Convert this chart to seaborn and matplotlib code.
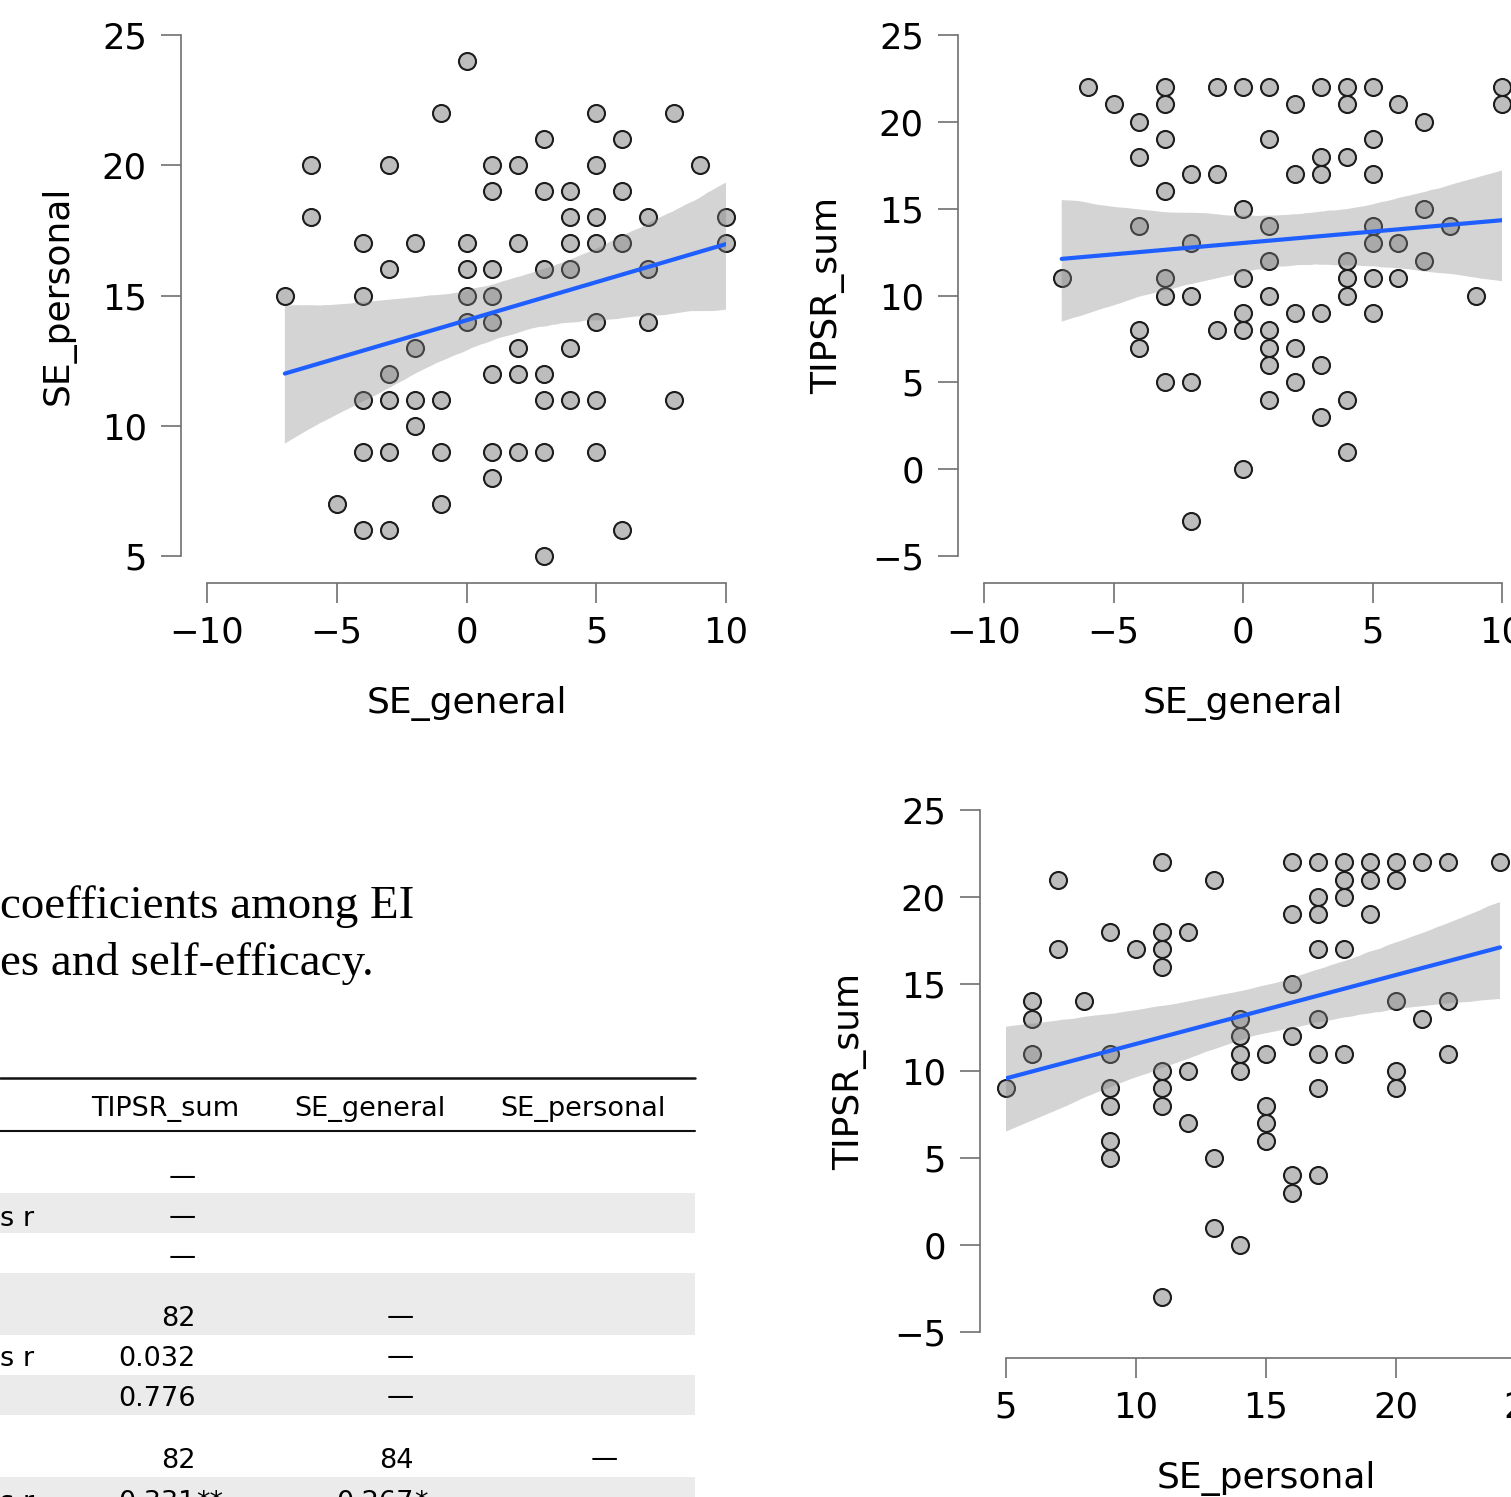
import numpy as np
import pandas as pd
import matplotlib
matplotlib.use("Agg")
import matplotlib.pyplot as plt
import seaborn as sns
from matplotlib.patches import Rectangle
from matplotlib.lines import Line2D

# ---------------- data ----------------
# Panel 1: SE_general (x) vs SE_personal (y)
p1_se_general = [0,
                 -1, 5, 8,
                 3, 6,
                 -6, -3, 1, 2, 5, 9,
                 1, 3, 4, 6,
                 -6, 4, 5, 7, 10,
                 -4, -2, 0, 2, 4, 5, 6, 10,
                 -3, 0, 1, 3, 4, 7,
                 -7, -4, 0, 1,
                 0, 1, 5, 7,
                 -2, 2, 4,
                 -3, 1, 2, 3,
                 -4, -3, -2, -1, 3, 4, 5, 8,
                 -2,
                 -4, -3, -1, 1, 2, 3, 5,
                 1,
                 -5, -1,
                 -4, -3, 6,
                 3]
p1_se_personal = [24,
                  22, 22, 22,
                  21, 21,
                  20, 20, 20, 20, 20, 20,
                  19, 19, 19, 19,
                  18, 18, 18, 18, 18,
                  17, 17, 17, 17, 17, 17, 17, 17,
                  16, 16, 16, 16, 16, 16,
                  15, 15, 15, 15,
                  14, 14, 14, 14,
                  13, 13, 13,
                  12, 12, 12, 12,
                  11, 11, 11, 11, 11, 11, 11, 11,
                  10,
                  9, 9, 9, 9, 9, 9, 9,
                  8,
                  7, 7,
                  6, 6, 6,
                  5]

# Panel 2: SE_general (x) vs TIPSR_sum (y)
p2_se_general = [-6, -3, -1, 0, 1, 3, 4, 5, 10,
                 -5, -3, 2, 4, 6, 10,
                 -4, 7,
                 -3, 1, 5,
                 -4, 3, 4,
                 -2, -1, 2, 3, 5,
                 -3,
                 0, 7,
                 -4, 1, 5, 8,
                 -2, 5, 6,
                 1, 4, 7,
                 -7, -3, 0, 4, 5, 6,
                 -3, -2, 1, 4, 9,
                 0, 2, 3, 5,
                 -4, -1, 0, 1,
                 -4, 1, 2,
                 1, 3,
                 -3, -2, 2,
                 1, 4,
                 3,
                 4,
                 0,
                 -2]
p2_tipsr_sum = [22, 22, 22, 22, 22, 22, 22, 22, 22,
                21, 21, 21, 21, 21, 21,
                20, 20,
                19, 19, 19,
                18, 18, 18,
                17, 17, 17, 17, 17,
                16,
                15, 15,
                14, 14, 14, 14,
                13, 13, 13,
                12, 12, 12,
                11, 11, 11, 11, 11, 11,
                10, 10, 10, 10, 10,
                9, 9, 9, 9,
                8, 8, 8, 8,
                7, 7, 7,
                6, 6,
                5, 5, 5,
                4, 4,
                3,
                1,
                0,
                -3]

# Panel 3: SE_personal (x) vs TIPSR_sum (y)
p3_se_personal = [11, 16, 17, 18, 19, 20, 21, 22, 24,
                  7, 13, 18, 19, 20,
                  17, 18,
                  16, 17, 19,
                  9, 11, 12,
                  7, 10, 11, 17, 18,
                  11,
                  16,
                  6, 8, 20, 22,
                  6, 14, 17, 21,
                  14, 16,
                  6, 9, 14, 15, 17, 18, 22,
                  11, 12, 14, 20,
                  5, 9, 11, 17, 20,
                  9, 11, 15,
                  12, 15,
                  9, 15,
                  9, 13,
                  16, 17,
                  16,
                  13,
                  14,
                  11]
p3_tipsr_sum = [22, 22, 22, 22, 22, 22, 22, 22, 22,
                21, 21, 21, 21, 21,
                20, 20,
                19, 19, 19,
                18, 18, 18,
                17, 17, 17, 17, 17,
                16,
                15,
                14, 14, 14, 14,
                13, 13, 13, 13,
                12, 12,
                11, 11, 11, 11, 11, 11, 11,
                10, 10, 10, 10,
                9, 9, 9, 9, 9,
                8, 8, 8,
                7, 7,
                6, 6,
                5, 5,
                4, 4,
                3,
                1,
                0,
                -3]

ticks_general = [-10, -5, 0, 5, 10]
ticks_personal_y = [5, 10, 15, 20, 25]
ticks_tipsr = [-5, 0, 5, 10, 15, 20, 25]
ticks_personal_x = [5, 10, 15, 20, 25]

# Table (visible part)
title_lines = ["coefficients among EI", "es and self-efficacy."]
table_header = ["TIPSR_sum", "SE_general", "SE_personal"]
row_labels = ["", "s r", "", "", "s r", "", "", "s r"]
col_tipsr = ["\u2014", "\u2014", "\u2014", "82", "0.032", "0.776", "82", "0.331**"]
col_general = ["", "", "", "\u2014", "\u2014", "\u2014", "84", "0.267*"]
col_personal = ["", "", "", "", "", "", "\u2014", "\u2014"]

# ---------------- figure ----------------
sns.set_style("ticks")
plt.rcParams['font.family'] = ['DejaVu Sans']
plt.rcParams['text.color'] = 'black'
plt.rcParams['axes.labelcolor'] = 'black'

W, H = 1511, 1497
fig = plt.figure(figsize=(W / 100, H / 100), dpi=100)

def ax_at(x0, x1, y0, y1):
    return fig.add_axes([x0 / W, 1 - y1 / H, (x1 - x0) / W, (y1 - y0) / H])

SPINE = '#707070'
TICK_FS = 25.5
LAB_FS = 26

def style(ax, xt, yt, xlabel, ylabel, off_l, off_b):
    ax.set_xlim(xt[0], xt[-1])
    ax.set_ylim(yt[0], yt[-1])
    ax.set_xticks(xt)
    ax.set_yticks(yt)
    for s in ['top', 'right']:
        ax.spines[s].set_visible(False)
    ax.spines['left'].set_position(('outward', off_l * 0.72))
    ax.spines['bottom'].set_position(('outward', off_b * 0.72))
    for s in ['left', 'bottom']:
        ax.spines[s].set_color(SPINE)
        ax.spines[s].set_linewidth(1.2)
    ax.tick_params(axis='both', direction='out', length=14.5, width=1.2,
                   color=SPINE, labelsize=TICK_FS, labelcolor='black')
    ax.tick_params(axis='x', pad=9)
    ax.tick_params(axis='y', pad=10)
    ax.set_xlabel(xlabel, fontsize=LAB_FS, labelpad=26, color='black')
    ax.set_ylabel(ylabel, fontsize=LAB_FS, labelpad=19, color='black')
    ax.patch.set_visible(False)

def panel(ax, x, y, xname, yname):
    df = pd.DataFrame({xname: x, yname: y})
    sns.regplot(data=df, x=xname, y=yname, ax=ax, ci=95, truncate=True,
                color='#1f5fff',
                scatter_kws=dict(s=150, color='#bdbdbd', edgecolor='#1c1c1c',
                                 linewidths=1.5, alpha=1, clip_on=False, zorder=1),
                line_kws=dict(color='#1f5fff', lw=3.0, zorder=3))
    band = ax.collections[-1]
    band.set_facecolor('#888888')
    band.set_alpha(0.36)
    band.set_edgecolor('none')
    band.set_zorder(2)

ax1 = ax_at(207, 726, 35, 556)
panel(ax1, p1_se_general, p1_se_personal, 'SE_general', 'SE_personal')
style(ax1, ticks_general, ticks_personal_y, 'SE_general', 'SE_personal', 26, 27)

ax2 = ax_at(984, 1502, 35, 556)
panel(ax2, p2_se_general, p2_tipsr_sum, 'SE_general', 'TIPSR_sum')
style(ax2, ticks_general, ticks_tipsr, 'SE_general', 'TIPSR_sum', 26, 27)

ax3 = ax_at(1006, 1526, 810, 1332)
panel(ax3, p3_se_personal, p3_tipsr_sum, 'SE_personal', 'TIPSR_sum')
style(ax3, ticks_personal_x, ticks_tipsr, 'SE_personal', 'TIPSR_sum', 26, 26)

# ---------------- title + table ----------------
def fx(px):
    return px / W

def fy(py):
    return 1 - py / H

fig.text(fx(0), fy(918), title_lines[0], family='Liberation Serif', fontsize=33.8,
         ha='left', va='baseline', color='black')
fig.text(fx(0), fy(975), title_lines[1], family='Liberation Serif', fontsize=33.8,
         ha='left', va='baseline', color='black')

bands = [(1193, 1233), (1273, 1335), (1375, 1415), (1477, 1520)]
for y0, y1 in bands:
    fig.add_artist(Rectangle((0, fy(y1)), fx(695), (y1 - y0) / H,
                             transform=fig.transFigure, facecolor='#ebebeb',
                             edgecolor='none', zorder=0))
fig.add_artist(Line2D([0, fx(695)], [fy(1078), fy(1078)], transform=fig.transFigure,
                      color='#111111', lw=1.8))
fig.add_artist(Line2D([0, fx(695)], [fy(1131), fy(1131)], transform=fig.transFigure,
                      color='#111111', lw=1.5))

TFS = 19.5
for name, cx in zip(table_header, [165, 370, 583]):
    fig.text(fx(cx), fy(1116), name, fontsize=TFS, ha='center', va='baseline',
             color='black')

row_y = [1175, 1215, 1255, 1315, 1355, 1395, 1457, 1499]
col_right = [196, 414, 618]
for i, yy in enumerate(row_y):
    base = fy(yy + 11)
    if row_labels[i]:
        fig.text(fx(0), base, row_labels[i], fontsize=TFS, ha='left', va='baseline',
                 color='black')
    for col, xr in zip([col_tipsr, col_general, col_personal], col_right):
        v = col[i]
        if not v:
            continue
        num = v.rstrip('*')
        stars = v[len(num):]
        if num == '\u2014':
            fig.text(fx(xr), fy(yy + 9), num, fontsize=TFS, ha='right',
                     va='baseline', color='black')
        else:
            fig.text(fx(xr), base, num, fontsize=TFS, ha='right', va='baseline',
                     color='black')
        if stars:
            fig.text(fx(xr), base, stars, fontsize=TFS, ha='left', va='baseline',
                     color='black')

fig.savefig('out.png', dpi=100)
